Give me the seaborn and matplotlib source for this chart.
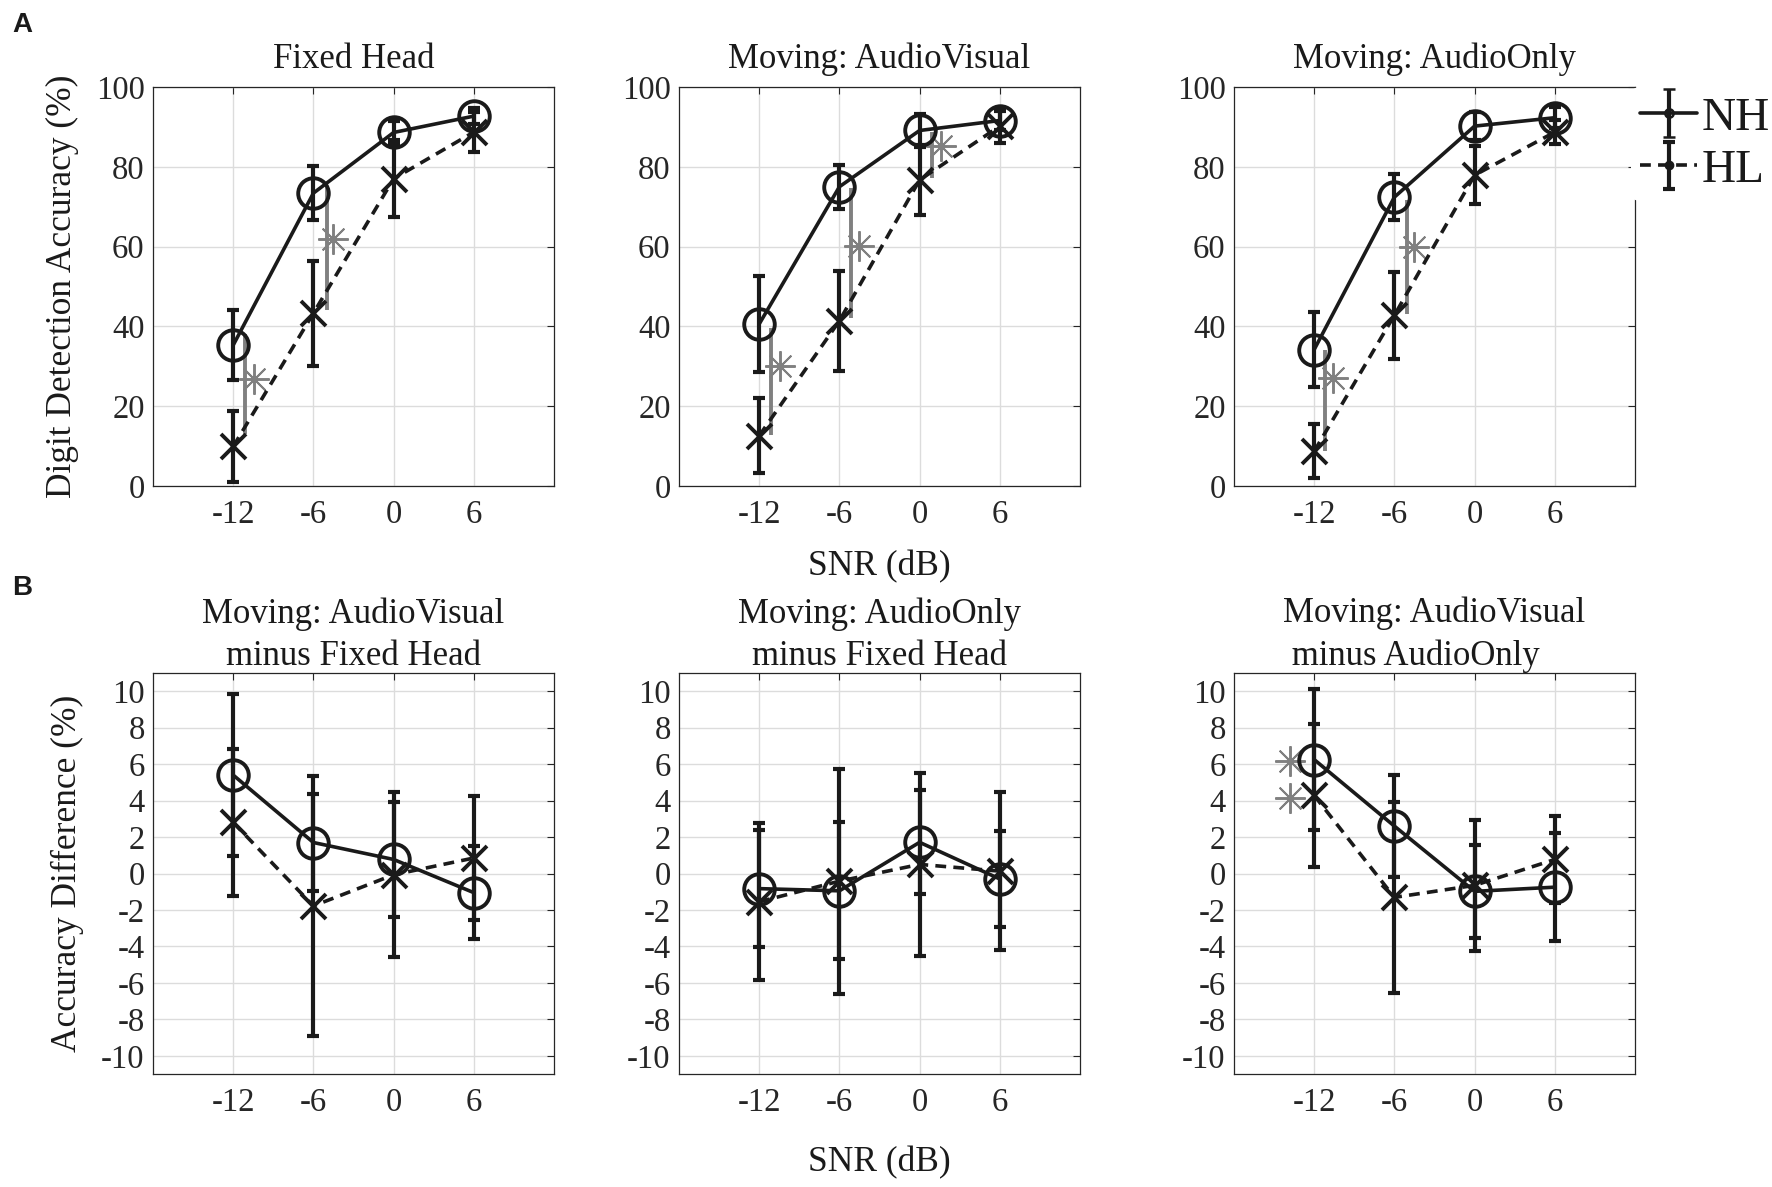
import numpy as np
import matplotlib
matplotlib.use("Agg")
import matplotlib.pyplot as plt
import seaborn as sns

# ---------------- data ----------------
snr = [-12, -6, 0, 6]
xtick_labels = ["-12", "-6", "0", "6"]
groups = ["NH", "HL"]

titles_A = ["Fixed Head", "Moving: AudioVisual", "Moving: AudioOnly"]
titles_B = ["Moving: AudioVisual\nminus Fixed Head",
            "Moving: AudioOnly\nminus Fixed Head",
            "Moving: AudioVisual\n minus AudioOnly"]

# Panel A: digit detection accuracy (%)
fh_nh = [35.3, 73.4, 88.6, 92.7]
fh_nh_err = [8.8, 6.8, 3.0, 2.0]
fh_hl = [9.9, 43.3, 77.0, 88.7]
fh_hl_err = [9.0, 13.2, 9.7, 5.0]

av_nh = [40.6, 75.0, 89.1, 91.6]
av_nh_err = [12.0, 5.5, 4.2, 2.3]
av_hl = [12.6, 41.4, 76.7, 90.2]
av_hl_err = [9.4, 12.6, 8.8, 4.3]

ao_nh = [34.2, 72.4, 90.2, 92.3]
ao_nh_err = [9.4, 5.7, 3.6, 2.7]
ao_hl = [8.7, 42.8, 77.9, 88.7]
ao_hl_err = [6.8, 10.9, 7.3, 3.0]

# Panel B: accuracy differences (%)
avfh_nh = [5.4, 1.7, 0.77, -1.05]
avfh_nh_err = [4.45, 2.68, 3.14, 2.55]
avfh_hl = [2.8, -1.78, -0.07, 0.85]
avfh_hl_err = [4.03, 7.15, 4.53, 3.42]

aofh_nh = [-0.83, -0.95, 1.71, -0.3]
aofh_nh_err = [3.21, 3.75, 2.86, 2.64]
aofh_hl = [-1.55, -0.42, 0.5, 0.13]
aofh_hl_err = [4.30, 6.18, 5.0, 4.35]

avao_nh = [6.25, 2.6, -0.98, -0.75]
avao_nh_err = [3.85, 2.81, 2.54, 2.97]
avao_hl = [4.28, -1.31, -0.65, 0.77]
avao_hl_err = [3.91, 5.25, 3.61, 2.40]

# significance markers (gray)
fh_sig_x = [-11.13, -5.0]
fh_sig_lo = [13.1, 44.0]
fh_sig_hi = [38.2, 74.9]
fh_star_x = [-10.47, -4.56]
fh_star_y = [26.9, 62.0]

av_sig_x = [-11.1, -5.1, 0.9]
av_sig_lo = [12.9, 42.1, 77.2]
av_sig_hi = [39.7, 74.8, 88.7]
av_star_x = [-10.44, -4.56, 1.6]
av_star_y = [30.2, 60.1, 85.1]

ao_sig_x = [-11.16, -5.07]
ao_sig_lo = [8.8, 43.0]
ao_sig_hi = [34.0, 71.8]
ao_star_x = [-10.57, -4.5]
ao_star_y = [27.1, 59.9]

avao_star_x = [-13.8, -13.8]
avao_star_y = [6.15, 4.16]

# ---------------- style ----------------
sns.set_theme(style="white")
plt.rcParams['font.family'] = ['Liberation Serif', 'DejaVu Serif']

W, H = 1772, 1187
fig = plt.figure(figsize=(W / 100, H / 100), dpi=100)

col_left = [153, 679, 1234]
ax_w = 401
rowA = (87, 486)
rowB = (673, 1074)

AX_COL = '#262626'
GRAY = '#808080'
DASH = (0, (3.0, 2.0))
LW = 2.6
ELW = 3.0


def make_ax(left, top, bottom):
    return fig.add_axes([left / W, 1 - bottom / H, ax_w / W, (bottom - top) / H])


def style_ax(ax, ylim, yticks):
    ax.set_xlim(-18, 12)
    ax.set_xticks(snr)
    ax.set_xticklabels(xtick_labels)
    ax.set_ylim(*ylim)
    ax.set_yticks(yticks)
    ax.set_yticklabels([str(v) for v in yticks])
    ax.grid(True, color='#dcdcdc', linewidth=1.0)
    ax.set_axisbelow(True)
    ax.tick_params(direction='in', length=5, width=0.8, top=True, right=True,
                   colors=AX_COL, labelsize=23.5)
    ax.tick_params(axis='x', pad=10)
    ax.tick_params(axis='y', pad=6)
    for s in ax.spines.values():
        s.set_color(AX_COL)
        s.set_linewidth(0.9)
    ax.set_xlabel("")
    ax.set_ylabel("")


def draw(ax, nh, nh_err, hl, hl_err):
    ax.errorbar(snr, hl, yerr=hl_err, fmt='none', ecolor='k', elinewidth=ELW,
                capsize=4.5, capthick=ELW, zorder=3)
    ax.errorbar(snr, nh, yerr=nh_err, fmt='none', ecolor='k', elinewidth=ELW,
                capsize=4.5, capthick=ELW, zorder=3)
    sns.lineplot(x=snr, y=hl, ax=ax, color='k', linestyle=DASH, linewidth=LW,
                 marker='x', markersize=18, markeredgecolor='k',
                 markeredgewidth=2.8, zorder=4)
    sns.lineplot(x=snr, y=nh, ax=ax, color='k', linewidth=LW,
                 marker='o', markersize=22, markerfacecolor='none',
                 markeredgecolor='k', markeredgewidth=2.8, zorder=4)


def draw_sig(ax, sx, lo, hi, stx, sty):
    if sx:
        ax.vlines(sx, lo, hi, color=GRAY, linewidth=2.8, zorder=2.8)
    ax.plot(stx, sty, linestyle='none', marker=(8, 2, 0), markersize=22,
            markeredgecolor=GRAY, markeredgewidth=1.4, color=GRAY, zorder=2.9)


dataA = [(fh_nh, fh_nh_err, fh_hl, fh_hl_err),
         (av_nh, av_nh_err, av_hl, av_hl_err),
         (ao_nh, ao_nh_err, ao_hl, ao_hl_err)]
sigA = [(fh_sig_x, fh_sig_lo, fh_sig_hi, fh_star_x, fh_star_y),
        (av_sig_x, av_sig_lo, av_sig_hi, av_star_x, av_star_y),
        (ao_sig_x, ao_sig_lo, ao_sig_hi, ao_star_x, ao_star_y)]
dataB = [(avfh_nh, avfh_nh_err, avfh_hl, avfh_hl_err),
         (aofh_nh, aofh_nh_err, aofh_hl, aofh_hl_err),
         (avao_nh, avao_nh_err, avao_hl, avao_hl_err)]

axesA, axesB = [], []
for i in range(3):
    ax = make_ax(col_left[i], *rowA)
    draw(ax, *dataA[i])
    draw_sig(ax, *sigA[i])
    style_ax(ax, (0, 100), list(range(0, 101, 20)))
    ax.set_title(titles_A[i], fontsize=25, pad=14, color='k')
    axesA.append(ax)

for i in range(3):
    ax = make_ax(col_left[i], *rowB)
    draw(ax, *dataB[i])
    if i == 2:
        draw_sig(ax, [], [], [], avao_star_x, avao_star_y)
    style_ax(ax, (-11, 11), list(range(-10, 11, 2)))
    ma = 'left' if i == 2 else 'center'
    ax.set_title(titles_B[i], fontsize=25, pad=6, color='k', multialignment=ma,
                 linespacing=1.35)
    axesB.append(ax)

axesA[0].set_ylabel("Digit Detection Accuracy (%)", fontsize=25.5, labelpad=12, color='k')
axesB[0].set_ylabel("Accuracy Difference (%)", fontsize=25.5, labelpad=12, color='k')
axesA[1].set_xlabel("SNR (dB)", fontsize=25.5, labelpad=14, color='k')
axesB[1].set_xlabel("SNR (dB)", fontsize=25.5, labelpad=20, color='k')

# legend
ax3 = axesA[2]
h1 = ax3.errorbar([np.nan], [np.nan], yerr=[1.0], fmt='-o', color='k', linewidth=LW,
                  markersize=6, markerfacecolor='none', markeredgewidth=1.8,
                  elinewidth=ELW, capsize=4.5, capthick=ELW)
h2 = ax3.errorbar([np.nan], [np.nan], yerr=[1.0], fmt='o', linestyle=DASH, color='k',
                  linewidth=LW, markersize=6, elinewidth=ELW, capsize=4.5, capthick=ELW)
leg = ax3.legend(handles=[h1, h2], labels=groups, loc='upper left',
                 bbox_to_anchor=(0.99, 1.0), fontsize=34, frameon=True,
                 facecolor='white', edgecolor='none', framealpha=1,
                 handlelength=1.2, handletextpad=0.1, borderpad=0.2,
                 labelspacing=0.2, borderaxespad=0)
for t in leg.get_texts():
    t.set_color('k')

# panel letters
fig.text(12 / W, 1 - 12 / H, "A", ha='left', va='top', fontsize=20,
         fontweight='bold', family=['Liberation Sans', 'DejaVu Sans'], color='k')
fig.text(12 / W, 1 - 575 / H, "B", ha='left', va='top', fontsize=20,
         fontweight='bold', family=['Liberation Sans', 'DejaVu Sans'], color='k')

fig.savefig("out.png", dpi=100, facecolor='white')
